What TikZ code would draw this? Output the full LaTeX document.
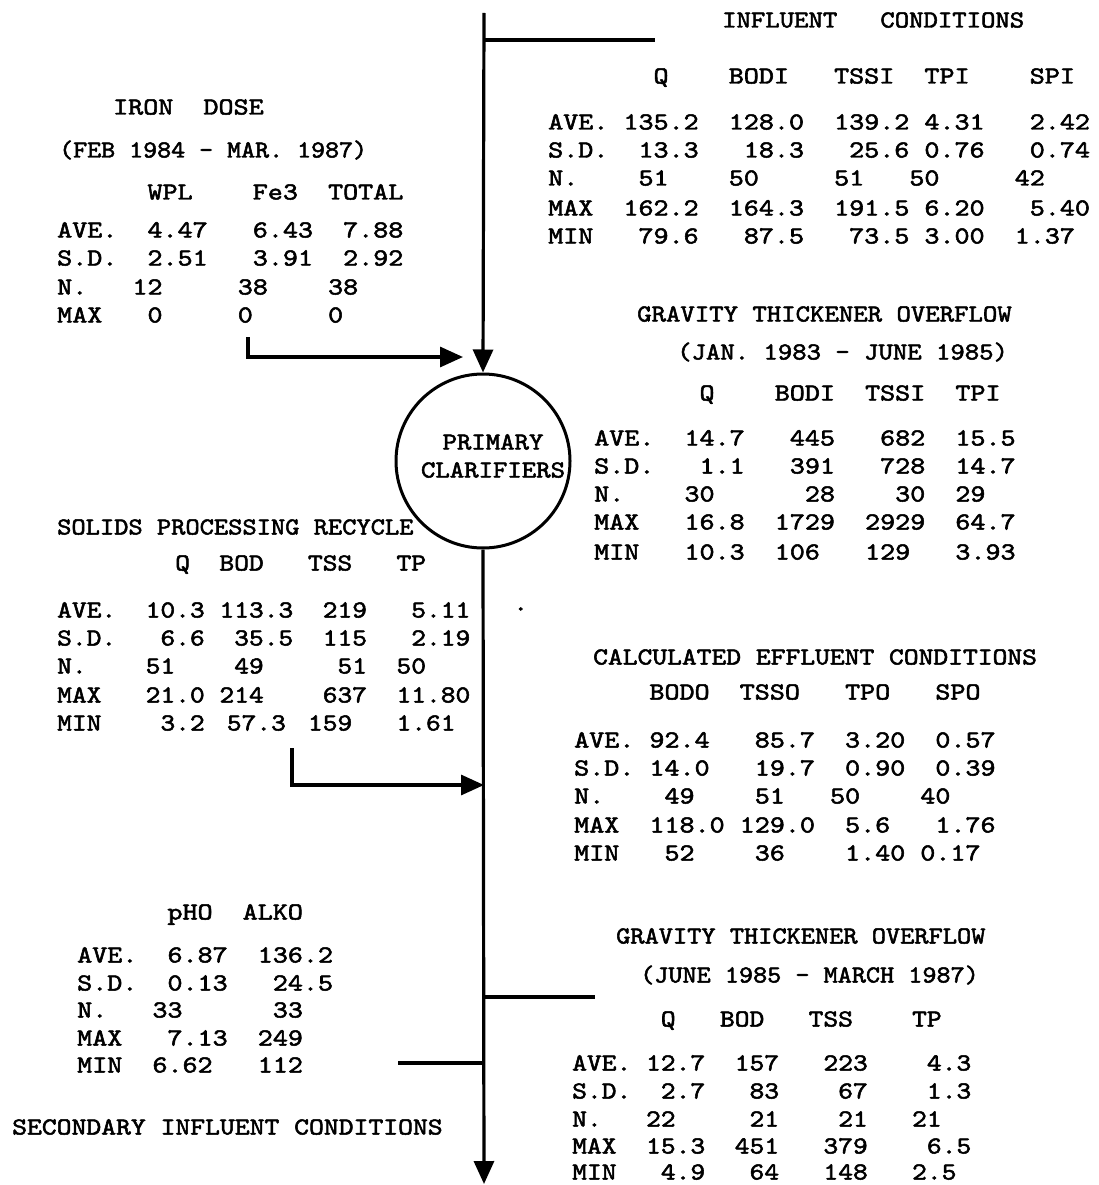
\documentclass[tikz,border=0pt]{standalone}
\usepackage{graphicx}
\usetikzlibrary{arrows.meta}
\font\cour="[lmmono10-regular]:embolden=2" at 24.5pt
\newcommand\fs{\fontsize{24.5}{28}\selectfont\cour}
\newcommand\hsp{\hspace{0.2625em}}
\tikzset{
  txt/.style={anchor=base west, inner sep=0pt, yshift=-7.5pt, font=\fs},
  flow/.style={line width=3.2pt},
  arr/.style={flow, -{Triangle[length=23pt,width=20pt]}},
}
% \row[horizontal factor]{name}{x}{y centre}{text}
\newcommand\row[5][1.17]{\node[txt] (#2) at (#3,#4) {\scalebox{#1}[1]{#5}};}
\begin{document}
\begin{tikzpicture}[x=1pt,y=-1pt]
\useasboundingbox (0,0) rectangle (1098,1185);
% ---- influent conditions
\row[1.118]{inf-t}{722}{20}{INFLUENT~~~CONDITIONS}
\row{inf-h}{548}{76}{~~~~~~~Q~~~~BODI~~~TSSI~~TPI~~~~SPI}
\row{inf-1}{548}{122}{AVE.~135.2~~128.0~~139.2~4.31~~~2.42}
\row{inf-2}{548}{150}{S.D.~~13.3~~~18.3~~~25.6~0.76~~~0.74}
\row{inf-3}{548}{178}{N.~~~~51~~~~50~~~~~51~~~50~~~~~42}
\row{inf-4}{548}{208}{MAX~~162.2~~164.3~~191.5~6.20~~~5.40}
\row{inf-5}{548}{236}{MIN~~~79.6~~~87.5~~~73.5~3.00~~1.37}
% ---- iron dose
\row{iron-t}{113}{107}{IRON~~DOSE}
\row[1.088]{iron-d}{59}{150}{(FEB~1984~-~MAR.~1987)}
\row{iron-h}{57}{192}{~~~~~~WPL~~~~Fe3~~TOTAL}
\row{iron-1}{57}{230}{AVE.~~4.47~~~6.43~~7.88}
\row{iron-2}{57}{258}{S.D.~~2.51~~~3.91~~2.92}
\row{iron-3}{57}{287}{N.~~~12~~~~~38~~~~38}
\row{iron-4}{57}{315}{MAX~~~0~~~~~0~~~~~0}
% ---- gravity thickener overflow 1
\row[1.12]{g1-t}{637}{314}{GRAVITY~THICKENER~OVERFLOW}
\row[1.118]{g1-d}{677}{352}{(JAN.~1983~-~JUNE~1985)}
\row{g1-h}{594}{393}{~~~~~~~Q~~~~BODI~~TSSI~~TPI}
\row{g1-1}{594}{438}{AVE.~~14.7~~~445~~~682~~15.5}
\row{g1-2}{594}{466}{S.D.~~~1.1~~~391~~~728~~14.7}
\row{g1-3}{594}{494}{N.~~~~30~~~~~~28~~~~30~~29}
\row{g1-4}{594}{522}{MAX~~~16.8~~1729~~2929~~64.7}
\row{g1-5}{594}{552}{MIN~~~10.3~~106~~~129~~~3.93}
% ---- solids processing recycle
\row[1.108]{s-t}{57}{527}{SOLIDS~PROCESSING~RECYCLE}
\row[1.147]{s-h}{57}{563}{~~~~~~~~Q~~BOD~~~TSS~~~TP}
\row[1.147]{s-1}{57}{610}{AVE.~~10.3~113.3~~219~~~5.11}
\row[1.147]{s-2}{57}{638}{S.D.~~~6.6~~35.5~~115~~~2.19}
\row[1.147]{s-3}{57}{666}{N.~~~~51~~~~49~~~~~51~~50}
\row[1.147]{s-4}{57}{695}{MAX~~~21.0~214~~~~637~~11.80}
\row[1.147]{s-5}{57}{723}{MIN~~~~3.2~\hsp57.3~\hsp159~~~1.61}
\row{dot}{513}{603}{.}
% ---- calculated effluent
\row[1.15]{c-t}{593}{657}{CALCULATED~EFFLUENT~CONDITIONS}
\row{c-h}{574}{692}{~~~~~BODO~~TSSO~~~TPO~~~SPO}
\row{c-1}{574}{740}{AVE.~92.4~~~85.7~~3.20~~0.57}
\row{c-2}{574}{768}{S.D.~14.0~~~19.7~~0.90~~0.39}
\row{c-3}{574}{796}{N.~~~~49~~~~51~~~50~~~~40}
\row{c-4}{574}{825}{MAX~~118.0~129.0~~5.6~~~1.76}
\row{c-5}{574}{853}{MIN~~~52~~~~36~~~~1.40~0.17}
% ---- pH / alk
\row{p-h}{77}{912}{~~~~~~pHO~~ALKO}
\row{p-1}{77}{955}{AVE.~~6.87~~136.2}
\row{p-2}{77}{983}{S.D.~~0.13~~~24.5}
\row{p-3}{77}{1010}{N.~~~33~~~~~~33}
\row{p-4}{77}{1038}{MAX~~~7.13~~249}
\row{p-5}{77}{1065}{MIN~~6.62~~~112}
\row[1.154]{sec}{12}{1127}{SECONDARY~INFLUENT~CONDITIONS}
% ---- gravity thickener overflow 2
\row[1.104]{g2-t}{616}{936}{GRAVITY~THICKENER~OVERFLOW}
\row[1.097]{g2-d}{640}{975}{(JUNE~1985~-~MARCH~1987)}
\row[1.149]{g2-h}{572}{1019}{~~~~~~Q~~~BOD~~~TSS~~~~TP}
\row[1.149]{g2-1}{572}{1063}{AVE.~12.7~~157~~~223~~~~4.3}
\row[1.149]{g2-2}{572}{1091}{S.D.~~2.7~~~83~~~~67~~~~1.3}
\row[1.149]{g2-3}{572}{1119}{N.~~~22~~~~~21~~~~21~~~21}
\row[1.149]{g2-4}{572}{1146}{MAX~~15.3~~451~~~379~~~~6.5}
\row[1.149]{g2-5}{572}{1172}{MIN~~~4.9~~~64~~~148~~~2.5}
% ---- clarifier
\node[circle, draw, line width=3pt, minimum size=174pt, inner sep=0pt] (clar) at (483,461) {};
\node[font={\fontsize{24.5}{28}\selectfont\cour}, align=center, inner sep=0pt]
  (clar-txt) at (493,456) {\scalebox{1.12}[1]{PRIMARY}\\\scalebox{1.12}[1]{CLARIFIERS}};
% ---- connectors
\coordinate (top) at (484,13);
\coordinate (j1) at (484,40);
\coordinate (inf) at (655,40);
\coordinate (bot) at (484,1184);
\coordinate (iron-s) at (248,337);
\coordinate (iron-c) at (248,357);
\coordinate (iron-e) at (463,357);
\coordinate (rec-s) at (292,748);
\coordinate (rec-c) at (292,785);
\coordinate (rec-e) at (484,785);
\coordinate (j2) at (484,997);
\coordinate (g2e) at (595,997);
\coordinate (s1) at (398,1063);
\coordinate (j3) at (484,1063);
\draw[arr] (top) -- (clar.north);
\draw[flow] (j1) -- (inf);
\draw[arr] (iron-s) -- (iron-c) -- (iron-e);
\draw[arr] (clar.south) -- (bot);
\draw[arr] (rec-s) -- (rec-c) -- (rec-e);
\draw[flow] (j2) -- (g2e);
\draw[flow] (s1) -- (j3);
\end{tikzpicture}
\end{document}
